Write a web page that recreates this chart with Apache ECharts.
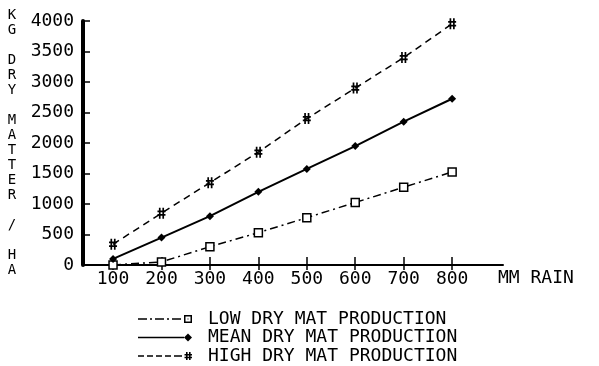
<!DOCTYPE html>
<html>
<head>
<meta charset="utf-8">
<script src="https://cdn.jsdelivr.net/npm/echarts@6/dist/echarts.min.js"></script>
<style>html,body{margin:0;padding:0;background:#fff;}#c{width:599px;height:366px;}</style>
</head>
<body>
<div id="c"></div>
<script>
const categories = [100, 200, 300, 400, 500, 600, 700, 800];
const lowValues = [0, 50, 300, 530, 775, 1025, 1275, 1525];
const meanValues = [100, 450, 800, 1200, 1575, 1950, 2350, 2725];
const highValues = [340, 850, 1350, 1850, 2400, 2900, 3400, 3955];
const seriesNames = ['LOW DRY MAT PRODUCTION', 'MEAN DRY MAT PRODUCTION', 'HIGH DRY MAT PRODUCTION'];
const yAxisTitle = 'KG DRY MATTER / HA';
const xAxisTitle = 'MM RAIN';

const font = 'DejaVu Sans Mono';
const pairs = arr => categories.map((c, i) => [c, arr[i]]);

const hashPath = 'path://M1.6,0h1.9v11h-1.9z M5.5,0h1.9v11h-1.9z M0,2.8h9v1.8h-9z M0,6.4h9v1.8h-9z';
const lowIcon = 'path://M0,3.25h9v1.5h-9z M12,3.25h2v1.5h-2z M17,3.25h9v1.5h-9z M29,3.25h2v1.5h-2z M34,3.25h9v1.5h-9z M46,0h8v8h-8z M47.5,1.5v5h5v-5z M49.5,3.5h1v1h-1z';
const meanIcon = 'path://M0,3.2h46v1.6h-46z M50,0L54,4L50,8L46,4z';
const highIcon = 'path://M0,3.25h6v1.5h-6z M9,3.25h6v1.5h-6z M18,3.25h6v1.5h-6z M27,3.25h6v1.5h-6z M36,3.25h8v1.5h-8z M48,0h1.6v8h-1.6z M51,0h1.6v8h-1.6z M46.5,2h7.5v1.4h-7.5z M46.5,4.8h7.5v1.4h-7.5z';

const chart = echarts.init(document.getElementById('c'), null, {renderer: 'canvas'});
chart.setOption({
  backgroundColor: '#fff',
  animation: false,
  grid: {left: 83, right: 96, top: 21, bottom: 101, outerBoundsMode: 'none'},
  xAxis: [{
    type: 'value', min: 38, max: 905, position: 'bottom',
    name: xAxisTitle, nameLocation: 'end', nameGap: -5,
    nameTextStyle: {fontFamily: font, fontSize: 18, color: '#000', align: 'left', verticalAlign: 'top', padding: [4, 0, 0, 0]},
    axisLine: {show: true, lineStyle: {color: '#000', width: 2}},
    axisTick: {show: true, inside: false, length: 5, customValues: categories, lineStyle: {color: '#000', width: 1.5}},
    axisLabel: {show: true, customValues: categories, margin: 5, fontFamily: font, fontSize: 18, color: '#000', formatter: v => String(v)},
    splitLine: {show: false}
  }, {
    type: 'value', min: 38, max: 905, position: 'bottom',
    axisLine: {show: false},
    axisTick: {show: true, inside: true, length: 8, customValues: categories, lineStyle: {color: '#000', width: 1.5}},
    axisLabel: {show: false},
    splitLine: {show: false}
  }],
  yAxis: [{
    type: 'value', min: 0, max: 4000, interval: 500,
    name: yAxisTitle.split('').join('\n'), nameLocation: 'middle', nameRotate: 0, nameGap: 71,
    nameTextStyle: {fontFamily: font, fontSize: 14, lineHeight: 15, color: '#000', align: 'center', verticalAlign: 'middle'},
    axisLine: {show: true, lineStyle: {color: '#000', width: 4}},
    axisTick: {show: true, inside: true, length: 7, lineStyle: {color: '#000', width: 1.5}},
    axisLabel: {margin: 9, fontFamily: font, fontSize: 18, color: '#000', formatter: v => String(v)},
    splitLine: {show: false}
  }],
  legend: {
    orient: 'vertical', left: 138, top: 310, padding: 0, height: 56,
    itemWidth: 54, itemHeight: 8, itemGap: 0.5,
    itemStyle: {color: '#000', borderWidth: 0},
    textStyle: {fontFamily: font, fontSize: 18, lineHeight: 18, color: '#000', padding: [0, 0, 0, 11]},
    data: [
      {name: seriesNames[0], icon: lowIcon},
      {name: seriesNames[1], icon: meanIcon},
      {name: seriesNames[2], icon: highIcon}
    ]
  },
  series: [{
    name: seriesNames[0], type: 'line', data: pairs(lowValues),
    symbol: 'rect', symbolSize: 8,
    lineStyle: {color: '#000', width: 1.5, type: [8, 4, 2, 4]},
    itemStyle: {color: '#fff', borderColor: '#000', borderWidth: 1.5}
  }, {
    name: seriesNames[1], type: 'line', data: pairs(meanValues),
    symbol: 'diamond', symbolSize: 8,
    lineStyle: {color: '#000', width: 2, type: 'solid'},
    itemStyle: {color: '#000'}
  }, {
    name: seriesNames[2], type: 'line', data: pairs(highValues),
    symbol: hashPath, symbolSize: [8, 11],
    lineStyle: {color: '#000', width: 1.5, type: [7, 5]},
    itemStyle: {color: '#000'}
  }]
});
</script>
</body>
</html>
